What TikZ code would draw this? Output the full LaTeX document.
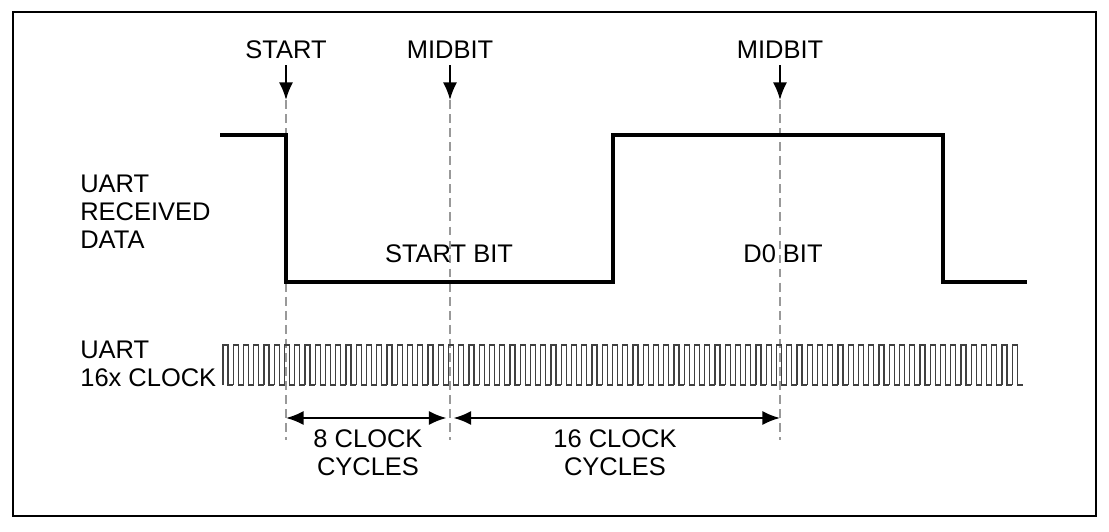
\documentclass[tikz,border=0pt]{standalone}
\usepackage{fontspec}
\setmainfont{Liberation Sans}
\usetikzlibrary{arrows.meta}
\begin{document}
\begin{tikzpicture}[x=0.02cm,y=-0.02cm,
    lbl/.style={font=\fontsize{14.5}{16}\selectfont, inner sep=0pt},
    mark line/.style={dash pattern=on 5pt off 3pt, gray!80, line width=0.6pt},
    dim/.style={<->, >={Latex[length=10pt,width=8pt]}, line width=1.2pt}]
  \useasboundingbox (0,0) rectangle (1109,531);
  \draw [line width=1.2pt] (13,12) rectangle (1096,516);
  % labels on the left
  \node [lbl, align=left, anchor=west] (rx) at (80,212) {UART\\RECEIVED\\DATA};
  \node [lbl, align=left, anchor=west] (clk) at (80,364) {UART\\16x CLOCK};
  % sample markers
  \node [lbl] (start) at (286,50) {START};
  \node [lbl] (mid1) at (450,50) {MIDBIT};
  \node [lbl] (mid2) at (780,50) {MIDBIT};
  \foreach \n/\x in {start/286, mid1/450, mid2/780} {
    \coordinate (\n top) at (\x,100);
    \coordinate (\n bot) at (\x,440);
    \draw [mark line] (\n top) -- (\n bot);
    \draw [->, >={Latex[length=10pt,width=8pt]}, line width=1.2pt] (\n.south) ++(0,6) -- (\n top);
  }
  % received data
  \draw [line width=1.8pt] (220,135) -- (286,135) -- (286,282) -- (613,282)
    -- (613,135) -- (943,135) -- (943,282) -- (1027,282);
  \node [lbl] (sbit) at (449,254) {START BIT};
  \node [lbl] (dbit) at (783,254) {D0 BIT};
  % 16x clock
  \foreach \i in {0,...,77} {
    \pgfmathsetmacro{\xa}{223+10.25*\i}
    \pgfmathsetmacro{\xb}{\xa+5.1}
    \pgfmathsetmacro{\xc}{\xa+10.25}
    \draw [gray!50!black, line width=0.7pt] (\xa,385) -- (\xa,345) -- (\xb,345) -- (\xb,385) -- (\xc,385);
  }
  % cycle counts
  \coordinate (d1) at (286,418);
  \coordinate (d2) at (450,418);
  \coordinate (d3) at (780,418);
  \draw [dim] (d1) -- ([xshift=-2]d2);
  \draw [dim] ([xshift=2]d2) -- (d3);
  \node [lbl, align=center] (c8) at (368,453) {8 CLOCK\\CYCLES};
  \node [lbl, align=center] (c16) at (615,453) {16 CLOCK\\CYCLES};
\end{tikzpicture}
\end{document}
